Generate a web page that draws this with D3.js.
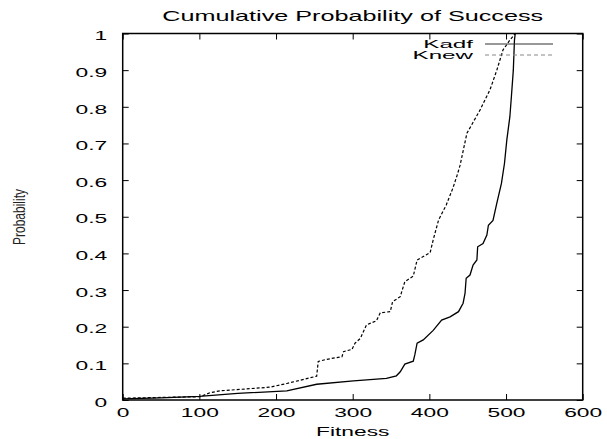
<!DOCTYPE html>
<html>
<head>
<meta charset="utf-8">
<script src="https://cdn.jsdelivr.net/npm/d3@7"></script>
<style>
  body { margin: 0; background: #fff; }
  text { font-family: "Liberation Sans", Arial, sans-serif; fill: #000; }
</style>
</head>
<body>
<div id="chart"></div>
<script>
// fitness / cumulative probability
const kadfFitness = [0, 50, 100, 150, 214, 253, 301, 344, 357, 362, 368, 379, 381, 384, 392, 405, 416, 427, 438, 444, 446.5, 448, 453, 457, 462, 463, 470, 475, 477, 483, 488, 494, 498, 501, 505, 507, 509.5, 511, 512];
const kadfProb = [0.003, 0.006, 0.01, 0.018, 0.025, 0.043, 0.052, 0.059, 0.066, 0.077, 0.098, 0.106, 0.123, 0.155, 0.164, 0.19, 0.218, 0.227, 0.241, 0.264, 0.291, 0.332, 0.341, 0.368, 0.382, 0.418, 0.427, 0.45, 0.477, 0.49, 0.537, 0.591, 0.646, 0.709, 0.773, 0.828, 0.9, 0.982, 1.0];

const knewFitness = [0, 50, 101, 114, 127, 192, 214, 253, 255, 266, 286, 288, 299, 303, 310, 318, 331, 336, 349, 352, 362, 368, 379, 384, 401, 405, 412, 422, 431, 436, 440, 449, 455, 466, 479, 488, 496, 505, 512];
const knewProb = [0.005, 0.007, 0.009, 0.02, 0.025, 0.035, 0.045, 0.065, 0.105, 0.111, 0.118, 0.132, 0.138, 0.155, 0.168, 0.205, 0.216, 0.238, 0.241, 0.268, 0.282, 0.323, 0.338, 0.382, 0.402, 0.437, 0.491, 0.532, 0.58, 0.612, 0.64, 0.728, 0.75, 0.791, 0.846, 0.9, 0.955, 0.982, 1.0];

const xTicks = [0, 100, 200, 300, 400, 500, 600];
const yTicks = [0, 0.1, 0.2, 0.3, 0.4, 0.5, 0.6, 0.7, 0.8, 0.9, 1];
const yTickLabels = ["0", "0.1", "0.2", "0.3", "0.4", "0.5", "0.6", "0.7", "0.8", "0.9", "1"];

const seriesNames = ["Kadf", "Knew"];

const W = 607, H = 439;
const margin = { top: 33.5, right: 24.3, bottom: 39, left: 122.7 };
const width = W - margin.left - margin.right;
const height = H - margin.top - margin.bottom;
const sx = 1.9; // gnuplot text comes out wide

const svg = d3.select("#chart").append("svg")
    .attr("width", W)
    .attr("height", H);

const g = svg.append("g")
    .attr("transform", `translate(${margin.left},${margin.top})`);

const x = d3.scaleLinear().domain([0, 600]).range([0, width]);
const y = d3.scaleLinear().domain([0, 1]).range([height, 0]);

// bottom axis, ticks inward
const xAxis = g.append("g")
    .attr("transform", `translate(0,${height})`)
    .call(d3.axisBottom(x).tickValues(xTicks).tickSizeInner(-6).tickSizeOuter(0).tickFormat(d3.format("d")));
xAxis.select(".domain").remove();
xAxis.selectAll("text")
    .attr("y", 0).attr("dy", 0)
    .attr("transform", `translate(0,17) scale(${sx},1)`)
    .style("font-size", "12px");

// top ticks
g.append("g")
    .call(d3.axisTop(x).tickValues(xTicks).tickSizeInner(-6).tickSizeOuter(0).tickFormat(""))
    .select(".domain").remove();

// left axis
const yAxis = g.append("g")
    .call(d3.axisLeft(y).tickValues(yTicks).tickSizeInner(-6).tickSizeOuter(0)
        .tickFormat((d, i) => yTickLabels[i]));
yAxis.select(".domain").remove();
yAxis.selectAll("text")
    .attr("x", 0).attr("dy", "0.52em")
    .attr("transform", `translate(-15.5,0) scale(${sx},1)`)
    .style("text-anchor", "end")
    .style("font-size", "12px");

// right ticks
g.append("g")
    .attr("transform", `translate(${width},0)`)
    .call(d3.axisRight(y).tickValues(yTicks).tickSizeInner(-6).tickSizeOuter(0).tickFormat(""))
    .select(".domain").remove();

g.selectAll(".tick line").attr("stroke", "#000").attr("stroke-width", 1);

// frame
g.append("rect")
    .attr("width", width).attr("height", height)
    .attr("fill", "none").attr("stroke", "#000").attr("stroke-width", 1.5);

// curves
const line = d3.line().x(d => x(d[0])).y(d => y(d[1]));
const kadf = kadfFitness.map((f, i) => [f, kadfProb[i]]);
const knew = knewFitness.map((f, i) => [f, knewProb[i]]);

g.append("path").datum(kadf)
    .attr("d", line).attr("fill", "none")
    .attr("stroke", "#000").attr("stroke-width", 1.3);

g.append("path").datum(knew)
    .attr("d", line).attr("fill", "none")
    .attr("stroke", "#000").attr("stroke-width", 1.2)
    .attr("stroke-dasharray", "3,2");

// legend
const legend = g.append("g").attr("transform", `translate(${width - 97.7},10.5)`);
seriesNames.forEach((name, i) => {
    const row = legend.append("g").attr("transform", `translate(0,${i * 11})`);
    row.append("text")
        .attr("x", 0).attr("y", 0).attr("dy", "0.36em")
        .attr("transform", `translate(-12,0) scale(2.2,1)`)
        .style("text-anchor", "end")
        .style("font-size", "11px")
        .text(name);
    row.append("line")
        .attr("x1", 0).attr("x2", 68)
        .attr("stroke", i === 0 ? "#333" : "#888")
        .attr("stroke-width", 1)
        .attr("stroke-dasharray", i === 0 ? null : "4,3");
});

// title and axis labels
svg.append("text")
    .attr("transform", `translate(${margin.left + width / 2},21) scale(1.8,1)`)
    .style("text-anchor", "middle")
    .style("font-size", "14px")
    .text("Cumulative Probability of Success");

svg.append("text")
    .attr("transform", `translate(${margin.left + width / 2},436) scale(${sx},1)`)
    .style("text-anchor", "middle")
    .style("font-size", "12px")
    .text("Fitness");

svg.append("text")
    .attr("transform", "translate(19.5,217) rotate(-90) scale(1,1.35)")
    .attr("dy", "0.35em")
    .style("text-anchor", "middle")
    .style("font-size", "12px")
    .style("fill", "#222")
    .text("Probability");
</script>
</body>
</html>
